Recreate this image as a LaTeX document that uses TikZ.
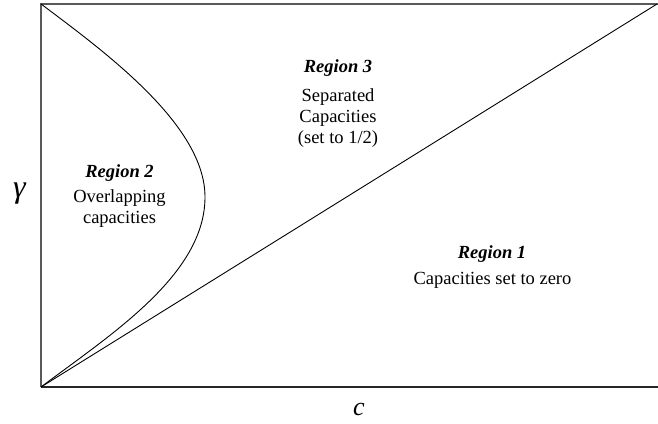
\documentclass[tikz,border=0pt]{standalone}
\usepackage{fontspec}
\setmainfont{Liberation Serif}
\begin{document}
\begin{tikzpicture}[x=1pt,y=-1pt,
  frame/.style={draw=black!65,line width=1.4pt},
  curve/.style={draw=black,line width=0.9pt},
  lbl/.style={font=\fontsize{18.5}{21}\selectfont,inner sep=0pt,anchor=base},
  head/.style={lbl,font=\fontsize{18.5}{21}\selectfont\bfseries\itshape},
  axislbl/.style={inner sep=0pt,anchor=base}]
\useasboundingbox (0,0) rectangle (658,423);
\coordinate (tl) at (41,4);
\coordinate (bl) at (41,387);
\coordinate (tr) at (658,4);
\coordinate (br) at (658,387);
\coordinate (tre) at (657,4);
\coordinate (vx) at (205,197);
\draw[frame] (tr) -- (tl) -- (bl);
\draw[frame,draw=black!85] (bl) -- (br);
\draw[curve] (bl) -- (tre);
\draw[curve] (tl) .. controls (105,52) and (205,125) .. (vx)
                  .. controls (205,275) and (110,335) .. (bl);
\node[head] (r2) at (119.5,177) {Region 2};
\node[lbl] (r2a) at (119.5,202) {Overlapping};
\node[lbl] (r2b) at (119.5,223) {capacities};
\node[head] (r3) at (338,72) {Region 3};
\node[lbl] (r3a) at (338,101) {Separated};
\node[lbl] (r3b) at (338,122) {Capacities};
\node[lbl] (r3c) at (338,143) {(set to 1/2)};
\node[head] (r1) at (492,258) {Region 1};
\node[lbl] (r1t) at (492.5,284) {Capacities set to zero};
\node[axislbl,font=\fontsize{32}{32}\selectfont\itshape] (g) at (19.5,197) {γ};
\node[axislbl,font=\fontsize{26}{26}\selectfont\itshape] (c) at (359,415) {c};
\end{tikzpicture}
\end{document}
